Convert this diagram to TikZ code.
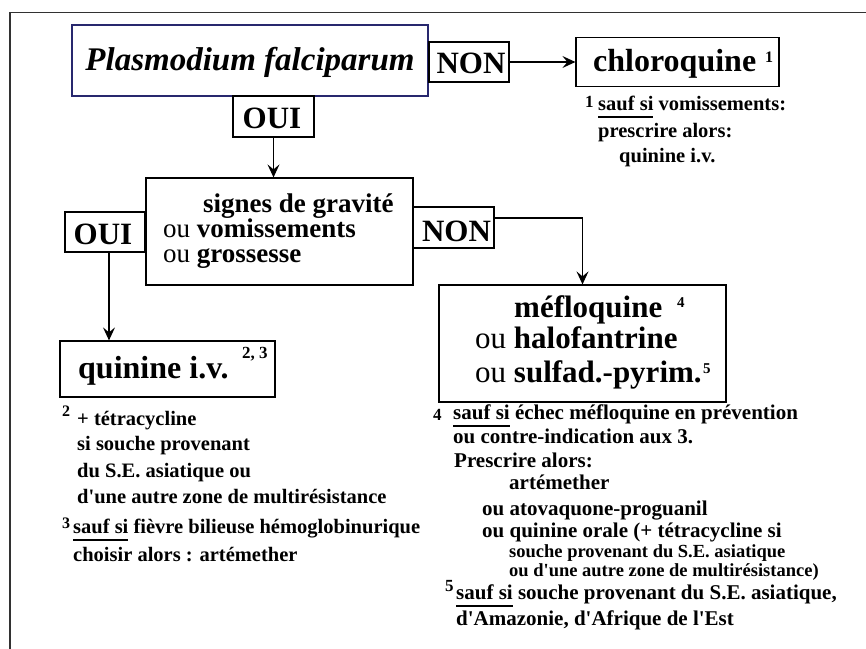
\documentclass[tikz,border=0pt]{standalone}
\usepackage{fontspec}
\setmainfont{Liberation Serif}
\usetikzlibrary{arrows.meta}
\newcommand\fsz[1]{\fontsize{#1}{#1}\selectfont}
\newcommand\sousligne[1]{\setbox0\hbox{#1}\rlap{\rule[-7.5pt]{\wd0}{1.3pt}}\box0\relax}
\newcommand\apo{\textquotesingle}
\definecolor{navy}{RGB}{40,40,110}
\definecolor{framec}{RGB}{50,50,50}
\begin{document}
\begin{tikzpicture}[x=1pt,y=-1pt,
  box/.style={draw, line width=1.2pt, inner sep=0, minimum width=#1},
  arr/.style={-{Stealth[length=13pt,width=12pt,inset=5pt]}, line width=1.2pt},
  txt/.style={inner sep=0, anchor=base west, font=\bfseries},
  ctxt/.style={inner sep=0, anchor=base, font=\bfseries},
  fnl/.style={txt, font=\fsz{20.5}\bfseries},
  fnr/.style={txt, font=\fsz{21}\bfseries},
  fns/.style={txt, font=\fsz{18.5}\bfseries},
  fnmark/.style={txt, font=\fsz{17}\bfseries}]
\useasboundingbox (0,0) rectangle (866,648);
\fill[white] (0,0) rectangle (866,648);
% outer frame
\draw[line width=1.5pt, framec] (10,700) -- (10,12.7) -- (900,12.7);

% boxes
\node[box=356pt, minimum height=71pt, draw=navy] (plas) at (250,60.5) {};
\node[box=80pt, minimum height=40pt] (non1) at (469,62) {};
\node[box=203pt, minimum height=49pt] (chloro) at (677.5,62) {};
\node[box=81pt, minimum height=41pt] (oui1) at (273.5,116.5) {};
\node[box=267pt, minimum height=107pt] (signes) at (279.5,231.5) {};
\node[box=80pt, minimum height=40pt] (oui2) at (105,232) {};
\node[box=81pt, minimum height=41pt] (non2) at (453.5,227.5) {};
\node[box=287pt, minimum height=117pt] (meflo) at (582.5,343.5) {};
\node[box=215pt, minimum height=56pt] (quin) at (167.5,369) {};

% box texts
\node[ctxt, font=\fsz{33}\bfseries\itshape] (plasT) at (250,70) {Plasmodium falciparum};
\node[ctxt, font=\fsz{31}\bfseries] (non1T) at (471,73) {NON};
\node[ctxt, font=\fsz{31}\bfseries] (oui1T) at (272,128) {OUI};
\node[txt, font=\fsz{32}\bfseries] (chloroT) at (593,71) {chloroquine};
\node[txt, font=\fsz{16}\bfseries] (chloroS) at (765,62) {1};
\node[ctxt, font=\fsz{31}\bfseries] (oui2T) at (103,244) {OUI};
\node[ctxt, font=\fsz{31}\bfseries] (non2T) at (456.5,241) {NON};
\node[txt, font=\fsz{27}\bfseries] (sigT1) at (203,212) {signes de gravité};
\node[txt, font=\fsz{27}\bfseries] (sigT2) at (163,237) {{\mdseries ou} vomissements};
\node[txt, font=\fsz{27}\bfseries] (sigT3) at (163,262) {{\mdseries ou} grossesse};
\node[txt, font=\fsz{31}\bfseries] (mefT1) at (514,317) {méfloquine};
\node[txt, font=\fsz{15}\bfseries] (mefS1) at (677,307) {4};
\node[txt, font=\fsz{31}\bfseries] (mefT2) at (475,348) {{\mdseries ou} halofantrine};
\node[txt, font=\fsz{31}\bfseries] (mefT3) at (475,382) {{\mdseries ou} sulfad.-pyrim.};
\node[txt, font=\fsz{15}\bfseries] (mefS3) at (703,373) {5};
\node[txt, font=\fsz{32}\bfseries] (quinT) at (78,378) {quinine i.v.};
\node[txt, font=\fsz{17}\bfseries] (quinS) at (242,358) {2, 3};

% connectors
\draw[arr] (non1.east) -- (chloro.west);
\draw[arr] (oui1.south) -- (oui1.south |- signes.north);
\draw[arr] ([xshift=4pt]oui2.south) -- ([xshift=4pt]oui2.south |- quin.north);
\draw[arr] ([yshift=9.5pt]non2.east) -| (meflo.north);

% footnote 1
\node[fnmark] (f1n) at (585,107) {1};
\node[fnl] (f1a) at (598,110) {\sousligne{sauf si} vomissements:};
\node[fnl] (f1b) at (598,137) {prescrire alors:};
\node[fnl] (f1c) at (619,162) {quinine i.v.};

% footnotes 2, 3
\node[txt, font=\fsz{16}\bfseries] (f2n) at (62,416) {2};
\node[fnl] (f2a) at (77,425) {+ tétracycline};
\node[fnl] (f2b) at (77,450) {si souche provenant};
\node[fnl] (f2c) at (77,477) {du S.E. asiatique ou};
\node[fnl] (f2d) at (77,503) {d\apo une autre zone de multirésistance};
\node[txt, font=\fsz{16}\bfseries] (f3n) at (62,528) {3};
\node[fnl] (f3a) at (73,533) {\sousligne{sauf si} fièvre bilieuse hémoglobinurique};
\node[fnl] (f3b) at (73,561) {choisir alors : artémether};

% footnotes 4, 5
\node[fnmark] (f4n) at (433,420) {4};
\node[fnr] (f4a) at (453,419) {\sousligne{sauf si} échec méfloquine en prévention};
\node[fnr] (f4b) at (453,443) {ou contre-indication aux 3.};
\node[fnr] (f4c) at (454,467) {Prescrire alors:};
\node[fnr] (f4d) at (509,489) {artémether};
\node[fnr] (f4e) at (482,515) {ou atovaquone-proguanil};
\node[fnr] (f4f) at (482,537) {ou quinine orale (+ tétracycline si};
\node[fns] (f4g) at (509,557) {souche provenant du S.E. asiatique};
\node[fns] (f4h) at (509,576) {ou d\apo une autre zone de multirésistance)};
\node[fnmark] (f5n) at (445,591) {5};
\node[fnr] (f5a) at (456,599) {\sousligne{sauf si} souche provenant du S.E. asiatique,};
\node[fnr] (f5b) at (456,625) {d\apo Amazonie, d\apo Afrique de l\apo Est};
\end{tikzpicture}
\end{document}
